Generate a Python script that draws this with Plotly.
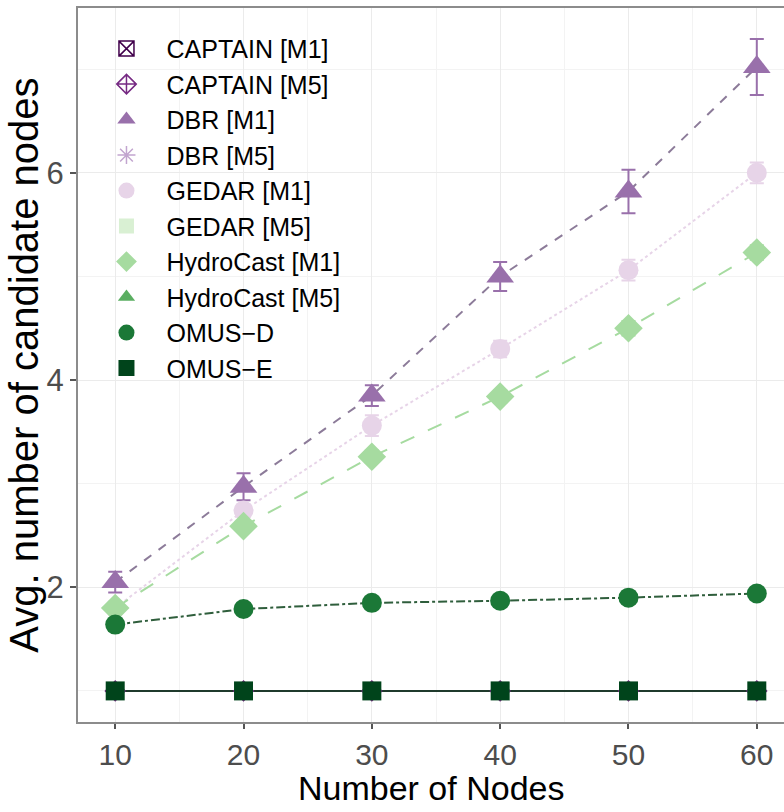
import plotly.graph_objects as go

nodes = [10, 20, 30, 40, 50, 60]

series_names = ["CAPTAIN [M1]", "CAPTAIN [M5]", "DBR [M1]", "DBR [M5]", "GEDAR [M1]",
                "GEDAR [M5]", "HydroCast [M1]", "HydroCast [M5]", "OMUS\u2212D", "OMUS\u2212E"]

captain_m1 = [1.0, 1.0, 1.0, 1.0, 1.0, 1.0]
captain_m5 = [1.0, 1.0, 1.0, 1.0, 1.0, 1.0]
dbr_m1 = [2.05, 2.97, 3.85, 5.0, 5.82, 7.02]
dbr_m5 = [1.0, 1.0, 1.0, 1.0, 1.0, 1.0]
gedar_m1 = [1.8, 2.74, 3.56, 4.3, 5.06, 6.0]
gedar_m5 = [1.0, 1.0, 1.0, 1.0, 1.0, 1.0]
hydro_m1 = [1.8, 2.59, 3.26, 3.84, 4.5, 5.23]
hydro_m5 = [1.0, 1.0, 1.0, 1.0, 1.0, 1.0]
omus_d = [1.64, 1.79, 1.85, 1.87, 1.9, 1.94]
omus_e = [1.0, 1.0, 1.0, 1.0, 1.0, 1.0]

zero_err = [0, 0, 0, 0, 0, 0]
dbr_m1_err = [0.1, 0.13, 0.1, 0.14, 0.21, 0.27]
gedar_m1_err = [0.06, 0.06, 0.1, 0.08, 0.1, 0.1]
hydro_m1_err = [0.04, 0.05, 0.06, 0.06, 0.07, 0.07]
omus_d_err = [0.03, 0.03, 0.03, 0.03, 0.03, 0.03]

values = [captain_m1, captain_m5, dbr_m1, dbr_m5, gedar_m1, gedar_m5, hydro_m1, hydro_m5, omus_d, omus_e]
errors = [zero_err, zero_err, dbr_m1_err, zero_err, gedar_m1_err, zero_err, hydro_m1_err, zero_err, omus_d_err, zero_err]

colors = ["#40004b", "#762a83", "#9970ab", "#c2a5cf", "#e7d4e8",
          "#d9f0d3", "#a6dba0", "#5aae61", "#1b7837", "#00441b"]
line_colors = ["#40004b", "#762a83", "#8c7b99", "#c2a5cf", "#e7d4e8",
               "#d9f0d3", "#a6dba0", "#5aae61", "#2f5e3c", "#1f3a2c"]
symbols = ["square-x-open", "diamond-cross-open", "triangle-up", "asterisk-open", "circle",
           "square", "diamond", "triangle-up", "circle", "square"]
sizes = [15, 15, 24, 15, 20, 15, 22, 15, 20, 19]
dashes = ["solid", "longdash", "dash", "dash", "dot", "dot", "longdash", "longdash", "dashdot", "solid"]

fig = go.Figure()

for name, y, lc, d in zip(series_names, values, line_colors, dashes):
    fig.add_trace(go.Scatter(x=nodes, y=y, mode="lines", showlegend=False, hoverinfo="skip",
                             line=dict(color=lc, width=2, dash=d)))

for name, y, e, c, s, sz in zip(series_names, values, errors, colors, symbols, sizes):
    open_sym = s.endswith("open")
    fig.add_trace(go.Scatter(
        x=nodes, y=y, mode="markers", name=name,
        marker=dict(symbol=s, size=sz, color=c,
                    line=dict(color=c, width=1.5 if open_sym else 0)),
        error_y=dict(type="data", array=e, visible=True, color=c, thickness=2, width=7),
    ))

grid = "#ebebeb"
fig.update_layout(
    width=784, height=812,
    margin=dict(l=78, r=0, t=8, b=90),
    paper_bgcolor="white", plot_bgcolor="white",
    font=dict(family="Liberation Sans, Arial, sans-serif", color="black"),
    showlegend=True,
    legend=dict(x=0.012, y=0.975, xanchor="left", yanchor="top",
                bgcolor="rgba(255,255,255,0)", font=dict(size=25, color="black"),
                itemwidth=70, tracegroupgap=0),
    xaxis=dict(
        range=[7.10, 62.12], tickvals=nodes, ticktext=[str(n) for n in nodes],
        showgrid=True, gridcolor=grid, gridwidth=1.2,
        minor=dict(tickvals=[15, 25, 35, 45, 55], showgrid=True, gridcolor="#f3f3f3", gridwidth=1),
        ticks="outside", ticklen=5, tickcolor="#555555", tickwidth=1.5,
        tickfont=dict(size=30, color="#4d4d4d"),
        showline=True, linecolor="#8c8c8c", linewidth=2, mirror=True,
        zeroline=False,
    ),
    yaxis=dict(
        range=[0.70, 7.59], tickvals=[2, 4, 6],
        showgrid=True, gridcolor=grid, gridwidth=1.2,
        minor=dict(tickvals=[1, 3, 5, 7], showgrid=True, gridcolor="#f3f3f3", gridwidth=1),
        ticks="outside", ticklen=6, tickcolor="#555555", tickwidth=1.5,
        tickfont=dict(size=31, color="#4d4d4d"),
        showline=True, linecolor="#8c8c8c", linewidth=2, mirror=False,
        zeroline=False,
    ),
    annotations=[
        dict(text="Number of Nodes", xref="paper", yref="paper", x=0.5, y=-0.093,
             xanchor="center", yanchor="middle", showarrow=False,
             font=dict(size=34, color="black")),
        dict(text="Avg. number of candidate nodes", xref="paper", yref="paper", x=-0.077, y=0.5,
             xanchor="center", yanchor="middle", textangle=-90, showarrow=False,
             font=dict(size=40, color="black")),
    ],
)

fig.write_html("out.html")
